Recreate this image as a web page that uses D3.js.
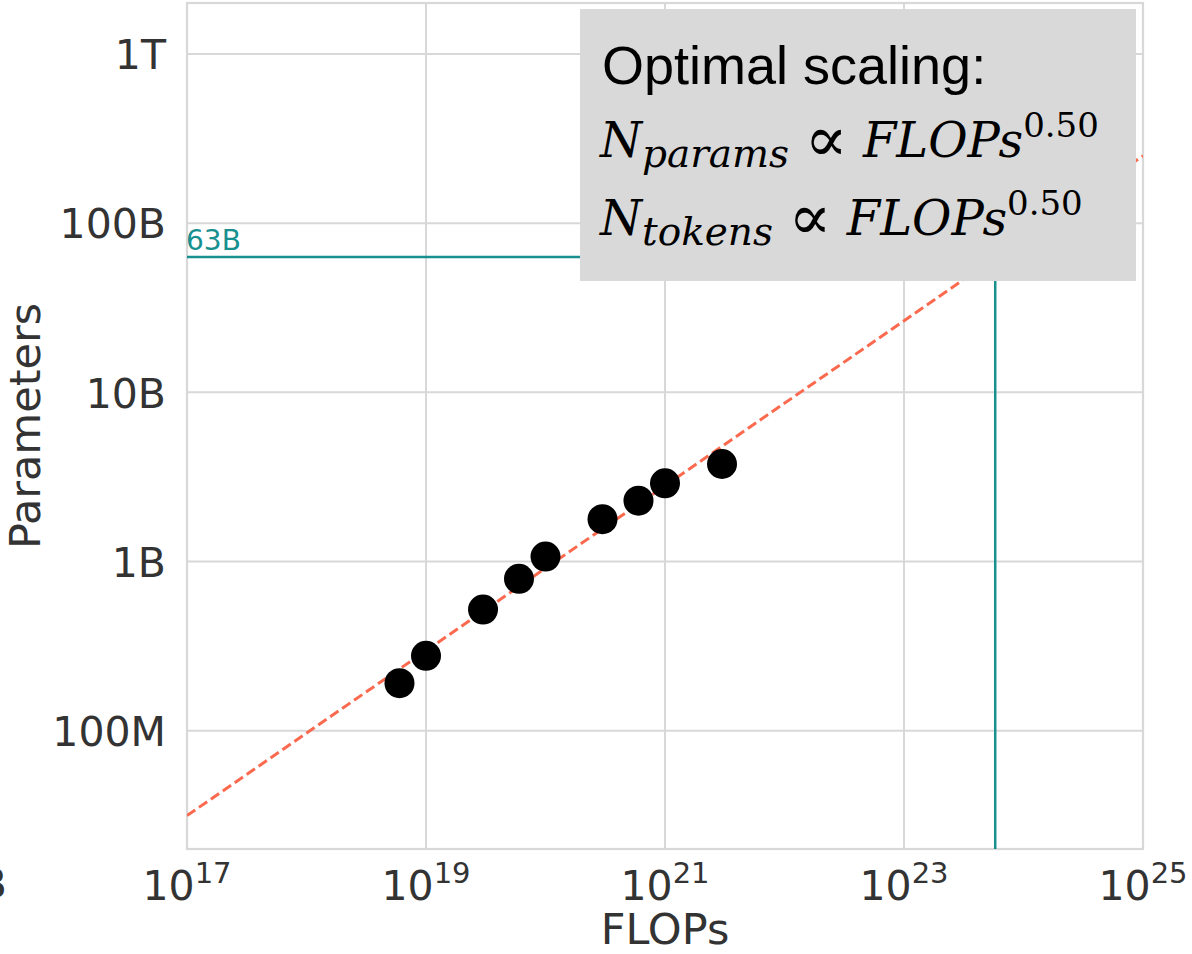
<!DOCTYPE html>
<html>
<head>
<meta charset="utf-8">
<script src="https://cdn.jsdelivr.net/npm/d3@7"></script>
<style>
  body { margin: 0; background: #fff; }
  text { font-family: "DejaVu Sans", sans-serif; }
</style>
</head>
<body>
<svg id="chart" width="1192" height="954"></svg>
<script>
// measured runs (FLOPs vs params)
var flops  = [6e18, 1e19, 3e19, 6e19, 1e20, 3e20, 6e20, 1e21, 3e21];
var params = [1.91e8, 2.77e8, 5.2e8, 7.9e8, 1.07e9, 1.78e9, 2.29e9, 2.9e9, 3.77e9];

// fitted power law, ends of the dashed line
var fitFlops  = [1e17, 1e25];
var fitParams = [3.15e7, 2.5e11];

// compute-optimal marker
var optFlops = 5.8e23;
var optParams = 63e9;
var optLabel = "63B";

var xTicks = [1e17, 1e19, 1e21, 1e23, 1e25];
var xTickExps = ["17", "19", "21", "23", "25"];
var yTicks = [1e8, 1e9, 1e10, 1e11, 1e12];
var yTickLabels = ["100M", "1B", "10B", "100B", "1T"];

var mLeft = 187, mRight = 1143, mTop = 3, mBottom = 849;
var gridColor = "#d8d8d8";
var teal = "#17908f";

var svg = d3.select("#chart");
svg.append("rect").attr("width", 1192).attr("height", 954).attr("fill", "#fff");

var x = d3.scaleLog().domain([1e17, 1e25]).range([mLeft, mRight]);
var y = d3.scaleLog().domain([2e7, 2e12]).range([mBottom, mTop]);

// grid
svg.append("g").selectAll("line").data(xTicks).enter().append("line")
    .attr("x1", d => x(d)).attr("x2", d => x(d))
    .attr("y1", mTop).attr("y2", mBottom)
    .attr("stroke", gridColor).attr("stroke-width", 2);
svg.append("g").selectAll("line").data(yTicks).enter().append("line")
    .attr("x1", mLeft).attr("x2", mRight)
    .attr("y1", d => y(d)).attr("y2", d => y(d))
    .attr("stroke", gridColor).attr("stroke-width", 2);

svg.append("rect")
    .attr("x", mLeft).attr("y", mTop)
    .attr("width", mRight - mLeft).attr("height", mBottom - mTop)
    .attr("fill", "none").attr("stroke", gridColor).attr("stroke-width", 2.2);

// y axis labels
const yAxis = d3.axisLeft(y).tickValues(yTicks)
    .tickFormat((d, i) => yTickLabels[i]).tickSize(0).tickPadding(21);
const gy = svg.append("g").attr("transform", "translate(" + mLeft + ",0)").call(yAxis);
gy.select(".domain").remove();
gy.selectAll("text").attr("fill", "#333").style("font-size", "41px")
    .style("font-family", "DejaVu Sans").attr("dy", "0.36em");

// x axis labels with superscripts
svg.append("g").selectAll("text").data(xTicks).enter().append("text")
    .attr("x", d => x(d)).attr("y", 900)
    .attr("text-anchor", "middle").attr("fill", "#333")
    .style("font-size", "41px")
    .each(function (d, i) {
        var t = d3.select(this);
        t.append("tspan").text("10");
        t.append("tspan").attr("dy", -17).style("font-size", "29px").text(xTickExps[i]);
    });

// clipped-off label of a neighbouring panel
svg.append("text").attr("x", 7).attr("y", 898).attr("text-anchor", "end")
    .attr("fill", "#333").style("font-size", "41px").text("B");

svg.append("text")
    .attr("x", (mLeft + mRight) / 2).attr("y", 944)
    .attr("text-anchor", "middle").attr("fill", "#333")
    .style("font-size", "43px").text("FLOPs");

svg.append("text")
    .attr("transform", "translate(40," + (mTop + mBottom) / 2 + ") rotate(-90)")
    .attr("text-anchor", "middle").attr("fill", "#333")
    .style("font-size", "43px").text("Parameters");

// clip for plot content
svg.append("clipPath").attr("id", "plotClip").append("rect")
    .attr("x", mLeft).attr("y", mTop).attr("width", mRight - mLeft).attr("height", mBottom - mTop);
var plot = svg.append("g").attr("clip-path", "url(#plotClip)");

var fitLine = d3.line().x(d => x(d[0])).y(d => y(d[1]));
plot.append("path")
    .datum(fitFlops.map((f, i) => [f, fitParams[i]]))
    .attr("d", fitLine)
    .attr("fill", "none").attr("stroke", "#fb6a4f")
    .attr("stroke-width", 3).attr("stroke-dasharray", "10,4.5");

plot.selectAll("circle").data(flops).enter().append("circle")
    .attr("cx", d => x(d)).attr("cy", (d, i) => y(params[i]))
    .attr("r", 15).attr("fill", "#000");

plot.append("line")
    .attr("x1", mLeft).attr("x2", x(optFlops))
    .attr("y1", y(optParams)).attr("y2", y(optParams))
    .attr("stroke", teal).attr("stroke-width", 2.5);
plot.append("line")
    .attr("x1", x(optFlops)).attr("x2", x(optFlops))
    .attr("y1", y(optParams)).attr("y2", mBottom)
    .attr("stroke", teal).attr("stroke-width", 2.5);

svg.append("text")
    .attr("x", mLeft - 1).attr("y", y(optParams) - 7)
    .attr("fill", teal).style("font-size", "28px").text(optLabel);

// annotation box
svg.append("rect")
    .attr("x", 580).attr("y", 9).attr("width", 556).attr("height", 272)
    .attr("fill", "#d9d9d9");

svg.append("text")
    .attr("x", 602).attr("y", 84)
    .attr("fill", "#000")
    .style("font-family", "Liberation Sans, Arial, sans-serif")
    .style("font-size", "54px").text("Optimal scaling:");

function formula(yBase, sub) {
    var t = svg.append("text").attr("x", 600).attr("y", yBase)
        .attr("fill", "#000")
        .style("font-family", "DejaVu Serif, serif")
        .style("font-style", "italic").style("font-size", "48px");
    t.append("tspan").text("N");
    t.append("tspan").attr("dy", 10).style("font-size", "39px").text(sub);
    t.append("tspan").attr("dy", -10).style("font-style", "normal").text(" ");
    t.append("tspan").attr("dy", 4).style("font-style", "normal").style("font-size", "64px").text("\u221D");
    t.append("tspan").attr("dy", -4).style("font-style", "normal").text(" ");
    t.append("tspan").text("FLOPs");
    t.append("tspan").attr("dy", -20).style("font-style", "normal")
        .style("font-size", "34px").text("0.50");
}
formula(157, "params");
formula(235, "tokens");
</script>
</body>
</html>
